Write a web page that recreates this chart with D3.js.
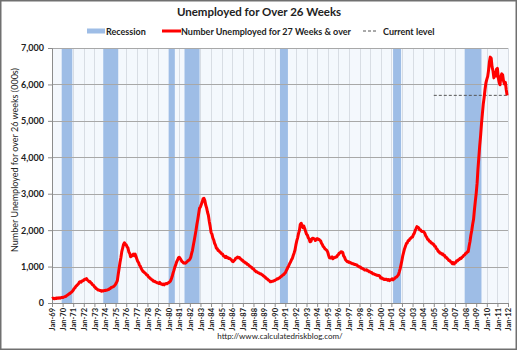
<!DOCTYPE html>
<html>
<head>
<meta charset="utf-8">
<script src="https://cdn.jsdelivr.net/npm/d3@7/dist/d3.min.js"></script>
<style>
  html, body { margin: 0; padding: 0; background: #fff; }
  svg { display: block; font-family: Lato, "Open Sans", "Liberation Sans", sans-serif; }
</style>
</head>
<body>
<svg id="chart" width="517" height="350"></svg>
<script>
// Long-term unemployed (27 weeks & over), thousands, monthly, Jan 1969 - Dec 2011
const startYear = 1969;
const monthlyByYear = [
  [120,132,128,115,130,126,140,128,143,132,145,150], // 1969
  [148,162,168,178,186,212,222,244,258,280,296,322], // 1970
  [352,395,415,455,476,505,525,575,585,570,605,612], // 1971
  [628,655,650,672,635,615,585,590,555,535,495,485], // 1972
  [445,425,395,385,360,358,345,342,325,338,328,342], // 1973
  [340,352,350,362,368,390,398,425,430,445,455,485], // 1974
  [520,565,615,790,945,1110,1240,1410,1510,1610,1655,1610], // 1975
  [1595,1540,1510,1400,1360,1270,1285,1310,1340,1300,1345,1280], // 1976
  [1210,1140,1110,1040,1010,945,905,865,855,825,805,775], // 1977
  [765,725,705,675,665,635,625,595,600,575,572,555], // 1978
  [552,535,565,525,528,505,520,498,525,535,528,548], // 1979
  [560,575,598,655,725,820,895,985,1045,1125,1175,1235], // 1980
  [1255,1225,1185,1140,1125,1095,1100,1090,1115,1135,1165,1175], // 1981
  [1205,1255,1355,1445,1585,1715,1855,1995,2160,2295,2455,2605], // 1982
  [2640,2710,2770,2860,2875,2810,2690,2610,2490,2410,2240,2110], // 1983
  [1940,1890,1790,1730,1640,1590,1510,1490,1440,1435,1395,1385], // 1984
  [1350,1340,1295,1285,1250,1280,1245,1250,1220,1230,1205,1185], // 1985
  [1145,1135,1165,1185,1230,1235,1260,1245,1250,1215,1205,1170], // 1986
  [1165,1130,1125,1095,1095,1060,1055,1025,1015,985,975,945], // 1987
  [935,905,885,855,855,835,825,805,805,785,775,745], // 1988
  [735,705,695,665,655,625,615,585,585,595,598,612], // 1989
  [618,635,645,665,668,685,698,725,738,765,778,805], // 1990
  [830,885,925,985,1025,1085,1125,1185,1225,1305,1375,1455], // 1991
  [1595,1710,1790,1910,1990,2160,2190,2130,2070,2110,2040,1960], // 1992
  [1890,1860,1790,1760,1680,1690,1755,1780,1770,1760,1715,1745], // 1993
  [1770,1745,1750,1725,1705,1640,1605,1550,1525,1485,1465,1445], // 1994
  [1395,1310,1245,1235,1235,1265,1215,1240,1245,1265,1260,1305], // 1995
  [1325,1370,1375,1405,1400,1390,1295,1260,1195,1165,1135,1140], // 1996
  [1115,1120,1095,1095,1075,1080,1055,1060,1050,1045,1015,1005], // 1997
  [985,990,955,955,935,925,905,905,915,885,885,855], // 1998
  [855,835,835,805,805,785,785,765,765,755,755,735], // 1999
  [685,695,665,665,645,645,655,645,625,645,615,635], // 2000
  [645,665,635,665,675,705,715,745,775,855,945,1055], // 2001
  [1175,1310,1395,1490,1555,1630,1645,1710,1715,1760,1775,1805], // 2002
  [1815,1880,1910,1990,2040,2095,2080,2060,2010,2010,1970,1960], // 2003
  [1965,1945,1905,1840,1810,1750,1740,1695,1690,1650,1650,1610], // 2004
  [1605,1560,1550,1490,1470,1420,1410,1370,1370,1340,1350,1310], // 2005
  [1310,1260,1260,1220,1210,1170,1170,1130,1120,1080,1110,1070], // 2006
  [1105,1115,1160,1160,1190,1195,1230,1220,1260,1270,1310,1320], // 2007
  [1360,1370,1410,1410,1560,1690,1860,1990,2160,2290,2560,2790], // 2008
  [3010,3290,3660,3990,4310,4590,4910,5190,5460,5640,5860,6040], // 2009
  [6140,6220,6380,6620,6750,6720,6480,6380,6180,6330,6230,6420], // 2010
  [6440,6180,6060,5990,6220,6290,6260,6090,6010,6060,5860,5700]  // 2011
];

// NBER recessions (first month, last month)
const recessions = [
  ["1969-12", "1970-11"],
  ["1973-11", "1975-03"],
  ["1980-01", "1980-07"],
  ["1981-07", "1982-11"],
  ["1990-07", "1991-03"],
  ["2001-03", "2001-11"],
  ["2007-12", "2009-06"]
];

const currentLevel = 5700;
const currentLevelStart = "2005-01";
const yTicks = [0, 1000, 2000, 3000, 4000, 5000, 6000, 7000];
const monthNames = ["Jan","Feb","Mar","Apr","May","Jun","Jul","Aug","Sep","Oct","Nov","Dec"];

const series = [];
monthlyByYear.forEach((row, yi) => {
  row.forEach((v, m) => series.push({ date: new Date(startYear + yi, m, 1), value: v }));
});
const parseMonth = d3.timeParse("%Y-%m");

const svg = d3.select("#chart");
const W = 517, H = 350;
const plot = { left: 52, right: 508, top: 48, bottom: 303 };

const x = d3.scaleTime()
  .domain([new Date(1969, 0, 1), new Date(2012, 0, 1)])
  .range([plot.left, plot.right]);
const y = d3.scaleLinear().domain([0, 7000]).range([plot.bottom, plot.top]);

// outer frame
svg.append("rect").attr("x", 0.75).attr("y", 0.75).attr("width", W - 1.5).attr("height", H - 1.5)
  .attr("fill", "#fff").attr("stroke", "#707070").attr("stroke-width", 1.5);

// plot background
svg.append("rect").attr("x", plot.left).attr("y", plot.top)
  .attr("width", plot.right - plot.left).attr("height", plot.bottom - plot.top)
  .attr("fill", "#f4f8fd");

const years = d3.timeYear.range(new Date(1969, 0, 1), new Date(2012, 0, 2));

// vertical year grid
svg.append("g").selectAll("line").data(years).join("line")
  .attr("x1", d => Math.round(x(d)) + 0.5).attr("x2", d => Math.round(x(d)) + 0.5)
  .attr("y1", plot.top).attr("y2", plot.bottom)
  .attr("stroke", "#d8dde4").attr("stroke-width", 1);

// recession bands
svg.append("g").selectAll("rect").data(recessions).join("rect")
  .attr("x", d => x(parseMonth(d[0])))
  .attr("width", d => x(d3.timeMonth.offset(parseMonth(d[1]), 1)) - x(parseMonth(d[0])))
  .attr("y", plot.top).attr("height", plot.bottom - plot.top)
  .attr("fill", "#9ebde6");

// horizontal value grid
svg.append("g").selectAll("line").data(yTicks.filter(v => v > 0)).join("line")
  .attr("x1", plot.left).attr("x2", plot.right)
  .attr("y1", d => Math.round(y(d)) + 0.5).attr("y2", d => Math.round(y(d)) + 0.5)
  .attr("stroke", "#a8a8a8").attr("stroke-width", 1);

// y axis
const yAxis = d3.axisLeft(y).tickValues(yTicks).tickSize(4).tickFormat(d3.format(","));
const gy = svg.append("g").attr("transform", `translate(${plot.left},0)`).call(yAxis);
gy.select(".domain").attr("stroke", "#8c8c8c");
gy.selectAll(".tick line").attr("stroke", "#8c8c8c");
gy.selectAll("text").attr("font-size", 9).attr("font-weight", "bold").attr("fill", "#222")
  .attr("x", -8).attr("font-family", "Lato, 'Open Sans', sans-serif");

// x axis
const xAxis = d3.axisBottom(x).tickValues(years).tickSize(4)
  .tickFormat(d => monthNames[d.getMonth()] + "-" + d3.timeFormat("%y")(d));
const gx = svg.append("g").attr("transform", `translate(0,${plot.bottom})`).call(xAxis);
gx.select(".domain").attr("stroke", "#8c8c8c");
gx.selectAll(".tick line").attr("stroke", "#8c8c8c");
gx.selectAll("text")
  .attr("font-size", 7.5).attr("font-weight", "bold").attr("fill", "#222")
  .attr("font-family", "Lato, 'Open Sans', sans-serif")
  .attr("text-anchor", "end")
  .attr("transform", "rotate(-90)")
  .attr("x", -5).attr("y", 0).attr("dy", "0.35em");

// current level reference
svg.append("line")
  .attr("x1", x(parseMonth(currentLevelStart))).attr("x2", plot.right)
  .attr("y1", y(currentLevel)).attr("y2", y(currentLevel))
  .attr("stroke", "#555").attr("stroke-width", 1).attr("stroke-dasharray", "3,2");

// long-term unemployed series
const line = d3.line().x(d => x(d.date)).y(d => y(d.value));
svg.append("path").datum(series)
  .attr("d", line).attr("fill", "none")
  .attr("stroke", "#ff0000").attr("stroke-width", 3).attr("stroke-linejoin", "round");

// title
svg.append("text").attr("x", 259).attr("y", 16).attr("text-anchor", "middle")
  .attr("font-size", 11.5).attr("font-weight", "bold").attr("fill", "#222")
  .text("Unemployed for Over 26 Weeks");

// legend
const lg = svg.append("g").attr("font-size", 9).attr("font-weight", "bold").attr("fill", "#222");
lg.append("rect").attr("x", 87).attr("y", 28.5).attr("width", 18).attr("height", 5).attr("fill", "#9ebde6");
lg.append("text").attr("x", 106).attr("y", 34.5).text("Recession");
lg.append("line").attr("x1", 162).attr("x2", 181).attr("y1", 31).attr("y2", 31)
  .attr("stroke", "#ff0000").attr("stroke-width", 3);
lg.append("text").attr("x", 181).attr("y", 34.5).text("Number Unemployed for 27 Weeks & over");
lg.append("line").attr("x1", 363).attr("x2", 378).attr("y1", 31).attr("y2", 31)
  .attr("stroke", "#555").attr("stroke-width", 1).attr("stroke-dasharray", "3,2");
lg.append("text").attr("x", 383).attr("y", 34.5).text("Current level");

// y axis title
svg.append("text")
  .attr("transform", "translate(18,160) rotate(-90)")
  .attr("text-anchor", "middle").attr("font-size", 9).attr("fill", "#222")
  .text("Number Unemployed for over 26 weeks (000s)");

// source
svg.append("text").attr("x", 280).attr("y", 339).attr("text-anchor", "middle")
  .attr("font-size", 8).attr("fill", "#222")
  .text("http://www.calculatedriskblog.com/");
</script>
</body>
</html>
